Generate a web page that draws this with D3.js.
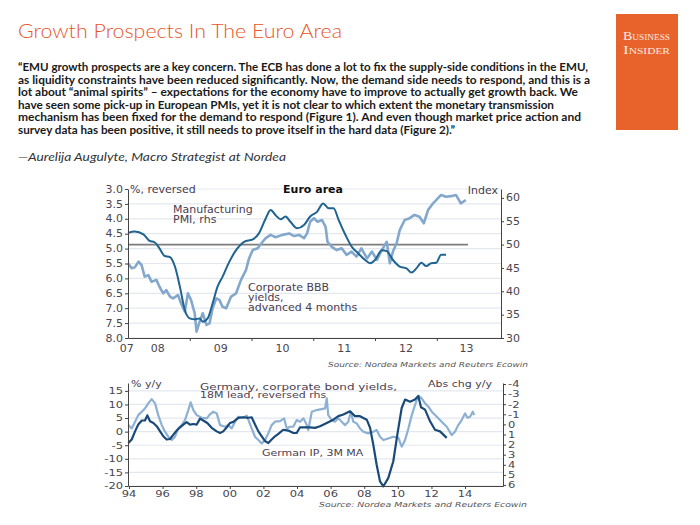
<!DOCTYPE html>
<html>
<head>
<meta charset="utf-8">
<script src="https://cdn.jsdelivr.net/npm/d3@7"></script>
<style>
  body { margin: 0; background: #fff; }
  svg { display: block; }
  .tick text { font-family: "DejaVu Sans", Verdana, sans-serif; fill: #4a4550; }
  .tick line, .domain { stroke: #444; }
</style>
</head>
<body>
<script>
// Euro area growth prospects slide, two Ecowin-style charts

//header texts
var title = "Growth Prospects In The Euro Area";
var quoteLines = [
    "\u201cEMU growth prospects are a key concern. The ECB has done a lot to fix the supply-side conditions in the EMU,",
    "as liquidity constraints have been reduced significantly. Now, the demand side needs to respond, and this is a",
    "lot about \u201canimal spirits\u201d  \u2013 expectations for the economy have to improve to actually get growth back. We",
    "have seen some pick-up in European PMIs, yet it is not clear to which extent the monetary transmission",
    "mechanism has been fixed for the demand to respond (Figure 1). And even though market price action and",
    "survey data has been positive, it still needs to prove itself in the hard data (Figure 2).\u201d"
];
var quoteWidths = [570, 572, 560, 536, 563, 437];
var attribution = "\u2014Aurelija Augulyte, Macro Strategist at Nordea";
var sourceText = "Source: Nordea Markets and Reuters Ecowin";

//figure 1: euro area, [year, value]
var pmi = [ // manufacturing PMI, rhs index
    [2008.00,52.5],[2008.11,52.8],[2008.25,52.2],[2008.35,50.8],[2008.43,50.5],[2008.51,49.2],
    [2008.59,47.6],[2008.68,47.3],[2008.76,45.3],[2008.84,41.0],[2008.92,36.0],[2009.00,34.2],
    [2009.08,34.0],[2009.16,34.2],[2009.21,33.5],[2009.29,34.2],[2009.37,37.4],[2009.45,41.0],
    [2009.53,43.1],[2009.64,46.3],[2009.75,48.8],[2009.88,50.6],[2010.02,51.1],[2010.12,52.4],
    [2010.23,55.6],[2010.31,57.4],[2010.39,56.3],[2010.47,55.4],[2010.55,56.0],[2010.63,54.9],
    [2010.74,53.5],[2010.85,54.2],[2010.95,56.0],[2011.06,57.0],[2011.16,58.8],[2011.25,57.8],
    [2011.33,57.8],[2011.41,55.3],[2011.52,52.1],[2011.62,49.6],[2011.73,48.1],[2011.84,46.7],
    [2011.92,46.0],[2012.00,46.7],[2012.11,48.8],[2012.19,48.6],[2012.29,46.7],[2012.40,45.3],
    [2012.51,44.9],[2012.59,44.0],[2012.67,44.9],[2012.75,46.1],[2012.83,45.4],[2012.91,46.0],
    [2012.99,46.1],[2013.07,47.8],[2013.15,47.8]
];
var bbbYield = [ // corporate BBB yields advanced 4 months, lhs % reversed
    [2008.00,5.49],[2008.06,5.66],[2008.11,5.63],[2008.17,5.44],[2008.22,5.55],[2008.27,5.94],
    [2008.33,5.89],[2008.38,6.11],[2008.46,6.05],[2008.51,6.28],[2008.57,6.50],[2008.62,6.39],
    [2008.68,6.61],[2008.73,6.67],[2008.81,6.56],[2008.86,6.84],[2008.92,7.12],[2008.97,6.50],
    [2009.02,6.72],[2009.08,7.17],[2009.11,7.79],[2009.16,7.45],[2009.21,7.17],[2009.27,7.56],
    [2009.32,7.51],[2009.37,7.00],[2009.43,6.67],[2009.48,6.72],[2009.53,6.95],[2009.59,7.00],
    [2009.67,6.61],[2009.75,6.50],[2009.83,6.05],[2009.91,5.72],[2009.96,5.33],[2010.02,5.05],
    [2010.10,4.99],[2010.18,4.77],[2010.23,4.65],[2010.31,4.54],[2010.39,4.62],[2010.50,4.54],
    [2010.61,4.49],[2010.69,4.58],[2010.77,4.54],[2010.85,4.65],[2010.90,4.49],[2010.95,4.10],
    [2011.01,3.98],[2011.07,4.10],[2011.14,4.04],[2011.20,4.27],[2011.23,4.77],[2011.30,4.94],
    [2011.38,5.05],[2011.46,4.99],[2011.54,5.21],[2011.62,5.10],[2011.70,5.27],[2011.78,4.99],
    [2011.87,5.33],[2011.95,5.10],[2012.03,5.38],[2012.11,5.05],[2012.19,4.77],[2012.24,5.49],
    [2012.29,5.10],[2012.35,4.82],[2012.40,4.38],[2012.48,4.04],[2012.56,3.98],[2012.64,3.87],
    [2012.72,3.93],[2012.79,4.15],[2012.86,3.70],[2012.94,3.48],[2012.99,3.37],[2013.07,3.20],
    [2013.15,3.26],[2013.23,3.24],[2013.31,3.20],[2013.39,3.48],[2013.47,3.37]
];
var pmiLine = 50;
var fig1Left = [3, 3.5, 4, 4.5, 5, 5.5, 6, 6.5, 7, 7.5, 8];
var fig1Right = [30, 35, 40, 45, 50, 55, 60];
var fig1Years = ["07", "08", "09", "10", "11", "12", "13"];
var fig1YearPos = [2007.98, 2008.48, 2009.5, 2010.5, 2011.5, 2012.5, 2013.48];
var fig1YearTicks = [2009, 2010, 2011, 2012, 2013];

//figure 2: Germany, [year, value]
var germanIP = [ // German IP 3M MA, % y/y lhs
    [1993.96,-4.2],[1994.16,-2.9],[1994.36,0.1],[1994.55,2.6],[1994.76,4.1],[1994.95,4.1],
    [1995.09,6.0],[1995.25,3.8],[1995.45,3.2],[1995.65,2.0],[1995.85,0.1],[1996.04,-1.7],
    [1996.24,-2.9],[1996.44,-2.7],[1996.64,-1.1],[1996.84,0.4],[1997.04,1.6],[1997.23,2.6],
    [1997.43,3.5],[1997.63,2.6],[1997.83,2.8],[1998.03,2.6],[1998.23,4.8],[1998.42,4.1],
    [1998.66,3.2],[1998.92,1.4],[1999.22,0.1],[1999.42,-0.5],[1999.61,0.1],[1999.82,1.6],
    [2000.01,3.2],[2000.21,3.6],[2000.51,5.1],[2000.80,5.3],[2001.10,5.1],[2001.30,5.3],
    [2001.50,2.6],[2001.70,0.1],[2001.90,-1.7],[2002.10,-3.5],[2002.29,-4.2],[2002.49,-2.9],
    [2002.69,-1.7],[2002.89,-0.8],[2003.18,0.7],[2003.48,0.4],[2003.78,-0.5],[2003.98,-0.5],
    [2004.18,1.6],[2004.48,1.6],[2004.77,1.6],[2005.07,1.4],[2005.37,2.0],[2005.77,3.2],
    [2006.16,4.4],[2006.46,5.7],[2006.76,6.3],[2007.15,7.5],[2007.45,5.7],[2007.75,5.7],
    [2008.15,4.4],[2008.35,1.4],[2008.54,-4.8],[2008.74,-12.2],[2008.94,-18.3],[2009.14,-20.1],
    [2009.43,-17.1],[2009.73,-10.9],[2009.97,-1.1],[2010.23,8.7],[2010.43,11.8],[2010.73,11.0],
    [2011.02,11.8],[2011.22,13.1],[2011.38,9.0],[2011.62,8.1],[2011.92,3.8],[2012.21,0.7],
    [2012.51,0.1],[2012.91,-2.3]
];
var bondYieldChg = [ // corporate bond yields, 18M lead, abs chg y/y, rhs reversed
    [1993.96,0.07],[1994.16,0.40],[1994.36,-0.27],[1994.55,-0.92],[1994.76,-1.26],[1994.95,-1.58],
    [1995.15,-2.08],[1995.35,-2.50],[1995.55,-2.08],[1995.74,-0.92],[1995.95,0.07],[1996.14,0.72],
    [1996.34,1.22],[1996.54,1.55],[1996.74,1.22],[1996.93,0.40],[1997.14,0.07],[1997.33,-0.43],
    [1997.53,-1.42],[1997.67,-2.18],[1997.83,-1.42],[1998.03,-0.92],[1998.33,-0.66],[1998.63,-0.60],
    [1998.82,-1.00],[1999.02,-1.26],[1999.22,-1.09],[1999.42,0.07],[1999.71,0.23],[1999.91,0.07],
    [2000.11,0.40],[2000.31,-0.27],[2000.51,-0.76],[2000.80,-0.66],[2001.01,-0.86],[2001.30,0.40],
    [2001.50,1.22],[2001.70,1.55],[2001.90,1.88],[2002.10,1.55],[2002.29,0.89],[2002.49,0.07],
    [2002.69,-0.27],[2002.99,-0.33],[2003.23,-0.60],[2003.39,0.40],[2003.58,0.23],[2003.78,0.23],
    [2003.98,-0.43],[2004.18,-0.27],[2004.38,-0.60],[2004.54,-0.10],[2004.67,0.56],[2004.88,-1.26],
    [2005.17,-1.42],[2005.67,-1.58],[2005.77,-2.57],[2005.86,-0.92],[2006.07,-0.43],[2006.26,-0.27],
    [2006.46,-0.60],[2006.66,-0.27],[2006.86,0.07],[2007.05,-0.27],[2007.20,-1.26],[2007.35,-0.27],
    [2007.55,-0.10],[2007.75,0.40],[2007.95,0.72],[2008.24,0.89],[2008.54,0.72],[2008.74,0.56],
    [2008.94,1.22],[2009.14,1.55],[2009.43,1.39],[2009.73,1.22],[2010.03,1.32],[2010.23,2.21],
    [2010.43,1.55],[2010.63,0.40],[2010.83,-0.92],[2011.02,-1.91],[2011.22,-2.84],[2011.42,-2.57],
    [2011.62,-2.08],[2011.82,-1.75],[2012.02,-1.26],[2012.32,-0.76],[2012.61,-0.27],[2012.91,0.23],
    [2013.21,1.06],[2013.40,0.72],[2013.60,0.07],[2013.80,-0.43],[2014.00,-1.09],[2014.14,-0.66],
    [2014.30,-0.76],[2014.46,-1.26],[2014.54,-0.92]
];
var fig2Left = [15, 10, 5, 0, -5, -10, -15, -20];
var fig2Right = [-4, -3, -2, -1, 0, 1, 2, 3, 4, 5, 6];
var fig2Years = ["94", "96", "98", "00", "02", "04", "06", "08", "10", "12", "14"];
var fig2YearPos = [1994, 1996, 1998, 2000, 2002, 2004, 2006, 2008, 2010, 2012, 2014];

var width = 700,
    height = 525;

var svg = d3.select("body")
    .append("svg")
    .attr("width", width)
    .attr("height", height);

//orange header
svg.append("text")
    .attr("x", 18).attr("y", 38)
    .attr("font-family", "Lato, 'Open Sans', sans-serif")
    .attr("font-weight", 300)
    .attr("font-size", 20.5)
    .attr("fill", "#e8562a")
    .attr("textLength", 324).attr("lengthAdjust", "spacingAndGlyphs")
    .text(title);

var quote = svg.selectAll(".quote")
    .data(quoteLines)
    .enter()
    .append("text")
    .attr("class", "quote")
    .attr("x", 18)
    .attr("y", function(d, i){ return 71 + i * 12.5; })
    .attr("font-family", "Lato, sans-serif")
    .attr("font-weight", "bold")
    .attr("font-size", 10.8)
    .attr("fill", "#1a1a1a")
    .attr("textLength", function(d, i){ return quoteWidths[i]; })
    .attr("lengthAdjust", "spacingAndGlyphs")
    .text(function(d){ return d; });

svg.append("text")
    .attr("x", 18).attr("y", 161)
    .attr("font-family", "Lato, sans-serif")
    .attr("font-style", "italic")
    .attr("font-size", 12)
    .attr("fill", "#333")
    .attr("textLength", 268).attr("lengthAdjust", "spacingAndGlyphs")
    .text(attribution);

//business insider logo
svg.append("rect")
    .attr("x", 616).attr("y", 14)
    .attr("width", 62).attr("height", 116)
    .attr("fill", "#e8622c");
["Business", "Insider"].forEach(function(w, i){
    svg.append("text")
        .attr("x", 646.5).attr("y", 40 + i * 14)
        .attr("text-anchor", "middle")
        .attr("font-family", "'Liberation Serif', 'DejaVu Serif', serif")
        .attr("font-size", 13.5)
        .attr("font-variant", "small-caps")
        .attr("fill", "#fbeee6")
        .attr("textLength", 47).attr("lengthAdjust", "spacingAndGlyphs")
        .text(w);
});

var chartFont = "'DejaVu Sans', Verdana, sans-serif";

//helper for chart annotations, sy squashes the text vertically
function note(g, x, y, s, opts){
    opts = opts || {};
    var t = g.append("text")
        .attr("transform", "translate(" + x + "," + y + ") scale(1," + (opts.sy || 1) + ")")
        .attr("font-family", chartFont)
        .attr("font-size", opts.size || 11)
        .attr("fill", opts.fill || "#4a3d50")
        .attr("text-anchor", opts.anchor || "start")
        .text(s);
    if (opts.bold) t.attr("font-weight", "bold");
    if (opts.italic) t.attr("font-style", "italic");
    if (opts.len) t.attr("textLength", opts.len).attr("lengthAdjust", "spacingAndGlyphs");
    return t;
}

var plain = function(d){ return String(d); }; // hyphen minus like the source

/* ---------- figure 1 ---------- */
var f1 = svg.append("g");
var x1 = d3.scaleLinear().domain([2008, 2014.04]).range([128, 501]);
var yL1 = d3.scaleLinear().domain([3, 8]).range([189, 338]);
var yR1 = d3.scaleLinear().domain([30, 61.9]).range([338, 189]);
var sy1 = 0.88;

f1.selectAll(".grid1")
    .data(fig1Left)
    .enter()
    .append("line")
    .attr("x1", 128).attr("x2", 501)
    .attr("y1", function(d){ return yL1(d); })
    .attr("y2", function(d){ return yL1(d); })
    .attr("stroke", "#e3e8ee")
    .attr("stroke-width", 1.2);

var lineL1 = d3.line()
    .x(function(d){ return x1(d[0]); })
    .y(function(d){ return yL1(d[1]); });
var lineR1 = d3.line()
    .curve(d3.curveMonotoneX)
    .x(function(d){ return x1(d[0]); })
    .y(function(d){ return yR1(d[1]); });

f1.append("line")
    .attr("x1", 128).attr("x2", 468)
    .attr("y1", yR1(pmiLine)).attr("y2", yR1(pmiLine))
    .attr("stroke", "#7d7d7d")
    .attr("stroke-width", 1.6);

f1.append("path")
    .datum(bbbYield)
    .attr("d", lineL1)
    .attr("fill", "none")
    .attr("stroke", "#84a8cc")
    .attr("stroke-width", 2.6)
    .attr("stroke-linejoin", "round");

f1.append("path")
    .datum(pmi)
    .attr("d", lineR1)
    .attr("fill", "none")
    .attr("stroke", "#1f6391")
    .attr("stroke-width", 2);

function squash1(g){
    g.selectAll("text")
        .attr("font-size", 11)
        .attr("transform", "scale(1," + sy1 + ")");
}

f1.append("g")
    .attr("transform", "translate(128,0)")
    .call(d3.axisLeft(yL1).tickValues(fig1Left).tickFormat(d3.format(".1f"))
        .tickSize(3).tickSizeOuter(0).tickPadding(2))
    .call(squash1);

f1.append("g")
    .attr("transform", "translate(501,0)")
    .call(d3.axisRight(yR1).tickValues(fig1Right).tickFormat(plain)
        .tickSize(3).tickSizeOuter(0).tickPadding(2))
    .call(squash1);

f1.append("g")
    .attr("transform", "translate(0,338)")
    .call(d3.axisBottom(x1).tickValues(fig1YearTicks).tickFormat("").tickSize(3).tickSizeOuter(0));

fig1Years.forEach(function(d, i){
    note(f1, x1(fig1YearPos[i]), 352, d, {anchor: "middle", sy: sy1, fill: "#4a4550"});
});

note(f1, 130, 193, "%, reversed", {sy: sy1});
note(f1, 313, 193, "Euro area", {anchor: "middle", bold: true, fill: "#111", sy: sy1});
note(f1, 498, 194, "Index", {anchor: "end", sy: sy1});
note(f1, 173, 213, "Manufacturing", {sy: sy1});
note(f1, 173, 223, "PMI, rhs", {sy: sy1});
note(f1, 248, 291, "Corporate BBB", {sy: sy1});
note(f1, 248, 301, "yields,", {sy: sy1});
note(f1, 248, 311, "advanced 4 months", {sy: sy1});
note(f1, 528, 367, sourceText, {anchor: "end", size: 7, italic: true, fill: "#555", len: 200});

/* ---------- figure 2 ---------- */
var f2 = svg.append("g");
var x2 = d3.scaleLinear().domain([1993.94, 2016.26]).range([128, 503]);
var yL2 = d3.scaleLinear().domain([-20, 17.9]).range([486, 383]);
var yR2 = d3.scaleLinear().domain([-4.1, 6.1]).range([383, 486]);
var sy2 = 0.78;

f2.selectAll(".grid2")
    .data(fig2Left)
    .enter()
    .append("line")
    .attr("x1", 128).attr("x2", 503)
    .attr("y1", function(d){ return yL2(d); })
    .attr("y2", function(d){ return yL2(d); })
    .attr("stroke", "#e3e8ee")
    .attr("stroke-width", 1.2);

var lineL2 = d3.line()
    .x(function(d){ return x2(d[0]); })
    .y(function(d){ return yL2(d[1]); });
var lineR2 = d3.line()
    .x(function(d){ return x2(d[0]); })
    .y(function(d){ return yR2(d[1]); });

f2.append("path")
    .datum(bondYieldChg)
    .attr("d", lineR2)
    .attr("fill", "none")
    .attr("stroke", "#8db0d3")
    .attr("stroke-width", 2.2)
    .attr("stroke-linejoin", "round");

f2.append("path")
    .datum(germanIP)
    .attr("d", lineL2)
    .attr("fill", "none")
    .attr("stroke", "#1a4a78")
    .attr("stroke-width", 2.2)
    .attr("stroke-linejoin", "round");

function squash2(g){
    g.selectAll("text")
        .attr("font-size", 11.5)
        .attr("transform", "scale(1," + sy2 + ")");
}

f2.append("g")
    .attr("transform", "translate(128,0)")
    .call(d3.axisLeft(yL2).tickValues(fig2Left).tickFormat(plain)
        .tickSize(3).tickSizeOuter(0).tickPadding(2))
    .call(squash2);

f2.append("g")
    .attr("transform", "translate(503,0)")
    .call(d3.axisRight(yR2).tickValues(fig2Right).tickFormat(plain)
        .tickSize(3).tickSizeOuter(0).tickPadding(2))
    .call(squash2);

f2.append("g")
    .attr("transform", "translate(0,486)")
    .call(d3.axisBottom(x2).tickValues(fig2YearPos).tickFormat("").tickSize(3).tickSizeOuter(0));

fig2Years.forEach(function(d, i){
    note(f2, x2(fig2YearPos[i]), 497, d, {anchor: "middle", size: 11.5, sy: sy2, fill: "#4a4550"});
});

note(f2, 131, 387, "% y/y", {sy: sy2});
note(f2, 200, 390, "Germany, corporate bond yields,", {sy: sy2, len: 197});
note(f2, 200, 398, "18M lead, reversed rhs", {sy: sy2});
note(f2, 492, 387, "Abs chg y/y", {anchor: "end", sy: sy2});
note(f2, 262, 456, "German IP, 3M MA", {sy: sy2});
note(f2, 527, 507, sourceText, {anchor: "end", size: 7, italic: true, fill: "#555", len: 208});
</script>
</body>
</html>
